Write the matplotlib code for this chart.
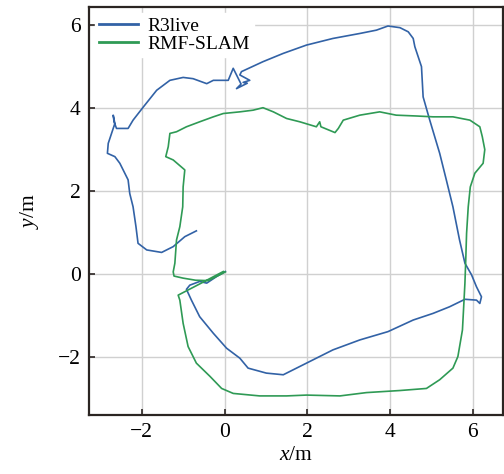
import matplotlib
matplotlib.use("Agg")
import matplotlib.pyplot as plt

# R3live trajectory (blue)
r3_x = [0.02, -0.19, -0.43, -0.60, -0.84, -0.92, -0.80, -0.60, -0.27, 0.05, 0.37, 0.57, 1.01, 1.42,
        1.98, 2.62, 3.27, 3.95, 4.56, 5.04, 5.44, 5.81, 6.09, 6.17, 6.21, 6.09, 5.97, 5.81, 5.68,
        5.52, 5.36, 5.20, 4.96, 4.80, 4.76, 4.60, 4.56, 4.44, 4.24, 3.95, 3.67, 3.27, 2.62, 1.98,
        1.42, 0.93, 0.41, 0.37, 0.61, 0.45, 0.55, 0.29, 0.40, 0.21, 0.09, -0.27, -0.43, -0.76,
        -1.00, -1.32, -1.64, -1.96, -2.21, -2.33, -2.61, -2.67, -2.69, -2.65, -2.73, -2.81, -2.83,
        -2.65, -2.53, -2.33, -2.29, -2.21, -2.14, -2.09, -1.88, -1.52, -1.24, -0.96, -0.68]
r3_y = [0.06, -0.06, -0.22, -0.18, -0.27, -0.37, -0.63, -1.03, -1.43, -1.79, -2.03, -2.27, -2.39, -2.43,
        -2.15, -1.83, -1.59, -1.39, -1.11, -0.95, -0.79, -0.61, -0.63, -0.71, -0.55, -0.31, -0.02,
        0.26, 0.82, 1.62, 2.27, 2.91, 3.71, 4.27, 5.00, 5.48, 5.68, 5.84, 5.94, 5.98, 5.88, 5.80,
        5.68, 5.52, 5.32, 5.12, 4.88, 4.80, 4.67, 4.62, 4.60, 4.47, 4.58, 4.96, 4.67, 4.67, 4.59,
        4.71, 4.74, 4.67, 4.43, 4.03, 3.71, 3.51, 3.51, 3.67, 3.83, 3.63, 3.39, 3.15, 2.91, 2.83,
        2.67, 2.27, 1.94, 1.62, 1.14, 0.74, 0.58, 0.52, 0.66, 0.90, 1.04]

# RMF-SLAM trajectory (green)
rmf_x = [0.02, -0.39, -0.70, -1.00, -1.22, -1.24, -1.20, -1.16, -1.08, -1.01, -1.00, -0.96, -1.24,
         -1.42, -1.36, -1.32, -1.16, -0.92, -0.60, -0.27, -0.03, 0.37, 0.69, 0.93, 1.18, 1.50,
         1.82, 2.22, 2.30, 2.33, 2.67, 2.75, 2.87, 3.27, 3.75, 4.15, 4.64, 5.04, 5.52, 5.93, 6.17,
         6.23, 6.29, 6.25, 6.05, 5.94, 5.89, 5.85, 5.83, 5.81, 5.78, 5.75, 5.64, 5.52, 5.20, 4.88,
         4.24, 3.43, 2.79, 1.98, 1.50, 0.85, 0.21, -0.07, -0.35, -0.68, -0.88, -1.00, -1.08,
         -1.12, -0.60, -0.03]
rmf_y = [0.05, -0.16, -0.15, -0.10, -0.05, 0.05, 0.26, 0.82, 1.14, 1.62, 2.10, 2.51, 2.75,
         2.83, 3.07, 3.39, 3.43, 3.55, 3.67, 3.79, 3.87, 3.91, 3.95, 4.01, 3.91, 3.75,
         3.67, 3.55, 3.67, 3.55, 3.41, 3.51, 3.71, 3.83, 3.91, 3.83, 3.81, 3.79, 3.79, 3.71, 3.55,
         3.31, 3.00, 2.67, 2.43, 2.10, 1.62, 0.98, 0.34, -0.22, -0.79, -1.35, -1.99, -2.27, -2.55,
         -2.76, -2.81, -2.86, -2.94, -2.92, -2.94, -2.94, -2.88, -2.76, -2.47, -2.15, -1.75, -1.19,
         -0.63, -0.51, -0.24, 0.06]

x_ticks = [-2, 0, 2, 4, 6]
y_ticks = [-2, 0, 2, 4, 6]

plt.rcParams['font.family'] = ['Liberation Serif', 'DejaVu Serif']
plt.rcParams['mathtext.fontset'] = 'custom'
plt.rcParams['mathtext.it'] = 'Liberation Serif:italic'
plt.rcParams['mathtext.rm'] = 'Liberation Serif'

fig = plt.figure(figsize=(5.04, 4.74), dpi=100)
ax = fig.add_axes([0.177, 0.1245, 0.821, 0.86])

ax.plot(r3_x, r3_y, color='#3262a6', lw=1.2, label='R3live', zorder=3)
ax.plot(rmf_x, rmf_y, color='#2f9a55', lw=1.2, label='RMF-SLAM', zorder=3)

ax.set_xlim(-3.27, 6.73)
ax.set_ylim(-3.40, 6.43)
ax.set_xticks(x_ticks)
ax.set_yticks(y_ticks)
ax.set_xticklabels(['\u2212' + str(-t) if t < 0 else str(t) for t in x_ticks])
ax.set_yticklabels(['\u2212' + str(-t) if t < 0 else str(t) for t in y_ticks])
ax.grid(True, color='#d0d0d0', lw=1.0, zorder=0)
ax.set_axisbelow(True)
ax.tick_params(direction='in', length=4, width=1.2, labelsize=15.5, color='#2b2522', pad=6)
for s in ax.spines.values():
    s.set_linewidth(1.6)
    s.set_color('#2b2522')

ax.set_xlabel('$x$/m', fontsize=15.5, labelpad=3)
ax.set_ylabel('$y$/m', fontsize=15.5, labelpad=12)

leg = ax.legend(loc='upper left', fontsize=14, frameon=True, fancybox=False,
                borderpad=0.2, handlelength=2.0, handletextpad=0.5, labelspacing=0.05,
                borderaxespad=0.3)
leg.get_frame().set_edgecolor('white')
leg.get_frame().set_facecolor('white')
leg.get_frame().set_alpha(1.0)
for l in leg.get_lines():
    l.set_linewidth(2.0)

fig.savefig('out.png', dpi=100)
